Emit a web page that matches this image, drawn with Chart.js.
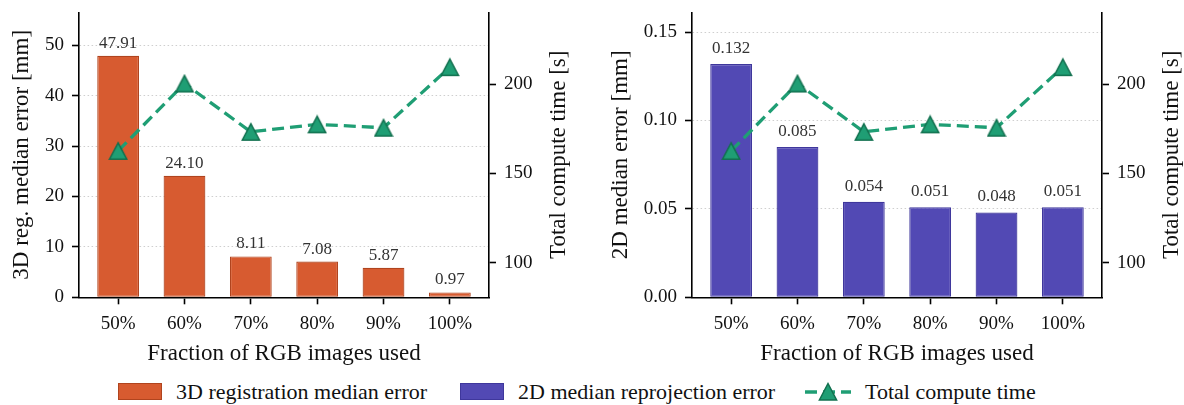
<!DOCTYPE html>
<html>
<head>
<meta charset="utf-8">
<script src="https://cdn.jsdelivr.net/npm/chart.js@4/dist/chart.umd.min.js"></script>
<style>
  html, body { margin: 0; padding: 0; background: #fff; width: 1184px; height: 405px; overflow: hidden; }
  .panel { position: absolute; top: 0; width: 592px; height: 370px; }
  #p1 { left: 0; }
  #p2 { left: 592px; }
  #legend { position: absolute; left: 0; top: 374px; width: 1184px; height: 35px; font-family: "Liberation Serif", serif; font-size: 22px; color: #111; }
  .item { position: absolute; top: 0; height: 35px; display: flex; align-items: center; white-space: nowrap; }
  .sw { display: inline-block; width: 44px; height: 17px; box-sizing: border-box; margin-right: 14px; }
</style>
</head>
<body>
<div class="panel" id="p1"><canvas id="c1" width="592" height="370"></canvas></div>
<div class="panel" id="p2"><canvas id="c2" width="592" height="370"></canvas></div>
<div id="legend"></div>
<script>
// ---------------- data ----------------
const categories = ['50%', '60%', '70%', '80%', '90%', '100%'];
const categoryIndex = [0, 1, 2, 3, 4, 5];
const err3d = [47.91, 24.10, 8.11, 7.08, 5.87, 0.97];
const err2d = [0.132, 0.085, 0.054, 0.051, 0.048, 0.051];
const computeTime = [162.7, 200.5, 173.4, 177.6, 175.7, 209.7];
const err3dTicks = [0, 10, 20, 30, 40, 50];
const err2dTicks = [0.00, 0.05, 0.10, 0.15];
const timeTicks = [100, 150, 200];
const seriesLabels = ['3D registration median error', '2D median reprojection error', 'Total compute time'];
const xTitle = 'Fraction of RGB images used';
const err3dTitle = '3D reg. median error [mm]';
const err2dTitle = '2D median error [mm]';
const timeTitle = 'Total compute time [s]';

// ---------------- styles ----------------
const FONT = '"Liberation Serif", "DejaVu Serif", serif';
const ORANGE = '#d75b30', ORANGE_EDGE = '#b0441e';
const PURPLE = '#5249b4', PURPLE_EDGE = '#3f379c';
const GREEN = '#1f9e74', GREEN_EDGE = '#12704f';

function makeTriangle() {
  const c = document.createElement('canvas');
  c.width = 20; c.height = 20;
  const g = c.getContext('2d');
  g.beginPath();
  g.moveTo(10, 1.8); g.lineTo(18.6, 18.2); g.lineTo(1.4, 18.2); g.closePath();
  g.fillStyle = GREEN; g.fill();
  g.lineWidth = 1.5; g.strokeStyle = GREEN_EDGE; g.lineJoin = 'miter'; g.stroke();
  return c;
}
const triangle = makeTriangle();

const barLabelPlugin = {
  id: 'barLabels',
  afterDatasetsDraw(chart, args, opts) {
    const meta = chart.getDatasetMeta(1);
    const ctx = chart.ctx;
    ctx.save();
    ctx.font = '17px ' + FONT;
    ctx.fillStyle = '#333';
    ctx.textAlign = 'center';
    ctx.textBaseline = 'alphabetic';
    meta.data.forEach((el, i) => ctx.fillText(opts.labels[i], el.x, el.y - opts.gap));
    ctx.restore();
  }
};

const titlesPlugin = {
  id: 'axisTitles',
  afterDraw(chart, args, opts) {
    const a = chart.chartArea, ctx = chart.ctx;
    const midY = (a.top + a.bottom) / 2;
    ctx.save();
    ctx.font = '23px ' + FONT;
    ctx.fillStyle = '#111';
    ctx.textAlign = 'center';
    ctx.textBaseline = 'middle';
    ctx.fillText(opts.x, (a.left + a.right) / 2, a.bottom + opts.xOff);
    ctx.save(); ctx.translate(a.left - opts.leftOff, midY); ctx.rotate(-Math.PI / 2); ctx.fillText(opts.left, 0, 0); ctx.restore();
    ctx.save(); ctx.translate(a.right + opts.rightOff, midY); ctx.rotate(-Math.PI / 2); ctx.fillText(opts.right, 0, 0); ctx.restore();
    ctx.restore();
  }
};

function axisCommon() {
  return {
    ticks: { font: { family: FONT, size: 19 }, color: '#111', padding: 8, autoSkip: false, maxRotation: 0 },
    border: { display: true, color: '#000', width: 1.6 }
  };
}

function zeroPad(s) { s.paddingTop = 0; s.paddingBottom = 0; s.paddingLeft = 0; s.paddingRight = 0; }

function makeChart(id, cfg) {
  const x = axisCommon();
  Object.assign(x, {
    type: 'linear', min: -0.59, max: 5.59, offset: false, position: 'bottom',
    afterBuildTicks: s => { s.ticks = categoryIndex.map(v => ({ value: v })); },
    afterFit: s => { s.height = cfg.xHeight; zeroPad(s); },
    grid: { offset: false, drawOnChartArea: false, drawTicks: true, tickLength: 7, tickWidth: 1.6, tickColor: '#000' }
  });
  x.ticks.callback = v => categories[v];

  const y = axisCommon();
  Object.assign(y, {
    type: 'linear', position: 'left', min: 0, max: cfg.yMax,
    afterBuildTicks: s => { s.ticks = cfg.ticks.map(v => ({ value: v })); },
    afterFit: s => { s.width = cfg.leftW; zeroPad(s); },
    grid: { offset: false, drawOnChartArea: true, color: '#c9c9c9', lineWidth: 0.9, drawTicks: true, tickLength: 7, tickWidth: 1.6, tickColor: '#000' }
  });
  y.border.dash = [1.5, 2.5];
  y.ticks.callback = v => cfg.fmtTick(v);

  const y2 = axisCommon();
  Object.assign(y2, {
    type: 'linear', position: 'right', min: 80.5, max: 240.5,
    afterBuildTicks: s => { s.ticks = timeTicks.map(v => ({ value: v })); },
    afterFit: s => { s.width = cfg.rightW; zeroPad(s); },
    grid: { offset: false, drawOnChartArea: false, drawTicks: true, tickLength: 7, tickWidth: 1.6, tickColor: '#000' }
  });
  y2.ticks.callback = v => String(v);

  return new Chart(document.getElementById(id), {
    type: 'bar',
    data: {
      datasets: [
        {
          type: 'line', label: seriesLabels[2], order: 0, xAxisID: 'x', yAxisID: 'y2',
          data: categoryIndex.map((v, i) => ({ x: v, y: computeTime[i] })),
          borderColor: GREEN, borderWidth: 3.3, borderDash: [12, 6], borderCapStyle: 'butt',
          pointStyle: triangle, pointRadius: 9, pointHoverRadius: 9, fill: false, tension: 0
        },
        {
          type: 'bar', label: cfg.label, order: 1, xAxisID: 'x', yAxisID: 'y',
          data: categoryIndex.map((v, i) => ({ x: v, y: cfg.values[i] })),
          backgroundColor: cfg.fill, borderColor: cfg.edge, borderWidth: 1.2, borderSkipped: false,
          categoryPercentage: 1, barPercentage: 0.63
        }
      ]
    },
    options: {
      responsive: false, animation: false, devicePixelRatio: 1,
      layout: { padding: { top: 10, left: 0, right: 0, bottom: 0 } },
      plugins: {
        legend: { display: false }, tooltip: { enabled: false },
        barLabels: { labels: cfg.barLabels, gap: cfg.gap },
        axisTitles: { x: xTitle, left: cfg.yTitle, right: timeTitle, xOff: 57, leftOff: cfg.leftTitleOff, rightOff: 70 }
      },
      scales: { x, y, y2 }
    },
    plugins: [barLabelPlugin, titlesPlugin]
  });
}

makeChart('c1', {
  label: seriesLabels[0], values: err3d, fill: ORANGE, edge: ORANGE_EDGE,
  yMax: 56.53, ticks: err3dTicks, fmtTick: v => String(v),
  barLabels: err3d.map(v => v.toFixed(2)), gap: 8,
  yTitle: err3dTitle, leftW: 79, rightW: 592 - 489, xHeight: 370 - 297.3, leftTitleOff: 57
});
makeChart('c2', {
  label: seriesLabels[1], values: err2d, fill: PURPLE, edge: PURPLE_EDGE,
  yMax: 0.1612, ticks: err2dTicks, fmtTick: v => v.toFixed(2),
  barLabels: err2d.map(v => v.toFixed(3)), gap: 11,
  yTitle: err2dTitle, leftW: 100, rightW: 592 - 510, xHeight: 370 - 297.3, leftTitleOff: 71
});

// ---------------- legend ----------------
const legend = document.getElementById('legend');
const legendItems = [
  { left: 118, kind: 'bar', fill: ORANGE, edge: ORANGE_EDGE, text: seriesLabels[0] },
  { left: 460, kind: 'bar', fill: PURPLE, edge: PURPLE_EDGE, text: seriesLabels[1] },
  { left: 805, kind: 'line', text: seriesLabels[2] }
];
legendItems.forEach(it => {
  const d = document.createElement('div');
  d.className = 'item';
  d.style.left = it.left + 'px';
  if (it.kind === 'bar') {
    const s = document.createElement('span');
    s.className = 'sw';
    s.style.background = it.fill;
    s.style.border = '1.2px solid ' + it.edge;
    d.appendChild(s);
  } else {
    const ns = 'http://www.w3.org/2000/svg';
    const svg = document.createElementNS(ns, 'svg');
    svg.setAttribute('width', '46'); svg.setAttribute('height', '22');
    svg.style.marginRight = '14px';
    const ln = document.createElementNS(ns, 'line');
    ln.setAttribute('x1', '0'); ln.setAttribute('x2', '46'); ln.setAttribute('y1', '11'); ln.setAttribute('y2', '11');
    ln.setAttribute('stroke', GREEN); ln.setAttribute('stroke-width', '3.3'); ln.setAttribute('stroke-dasharray', '12 6');
    svg.appendChild(ln);
    const tri = document.createElementNS(ns, 'polygon');
    tri.setAttribute('points', '23,2.5 31.6,19 14.4,19');
    tri.setAttribute('fill', GREEN); tri.setAttribute('stroke', GREEN_EDGE); tri.setAttribute('stroke-width', '1.5');
    svg.appendChild(tri);
    d.appendChild(svg);
  }
  const t = document.createElement('span');
  t.textContent = it.text;
  d.appendChild(t);
  legend.appendChild(d);
});
</script>
</body>
</html>
